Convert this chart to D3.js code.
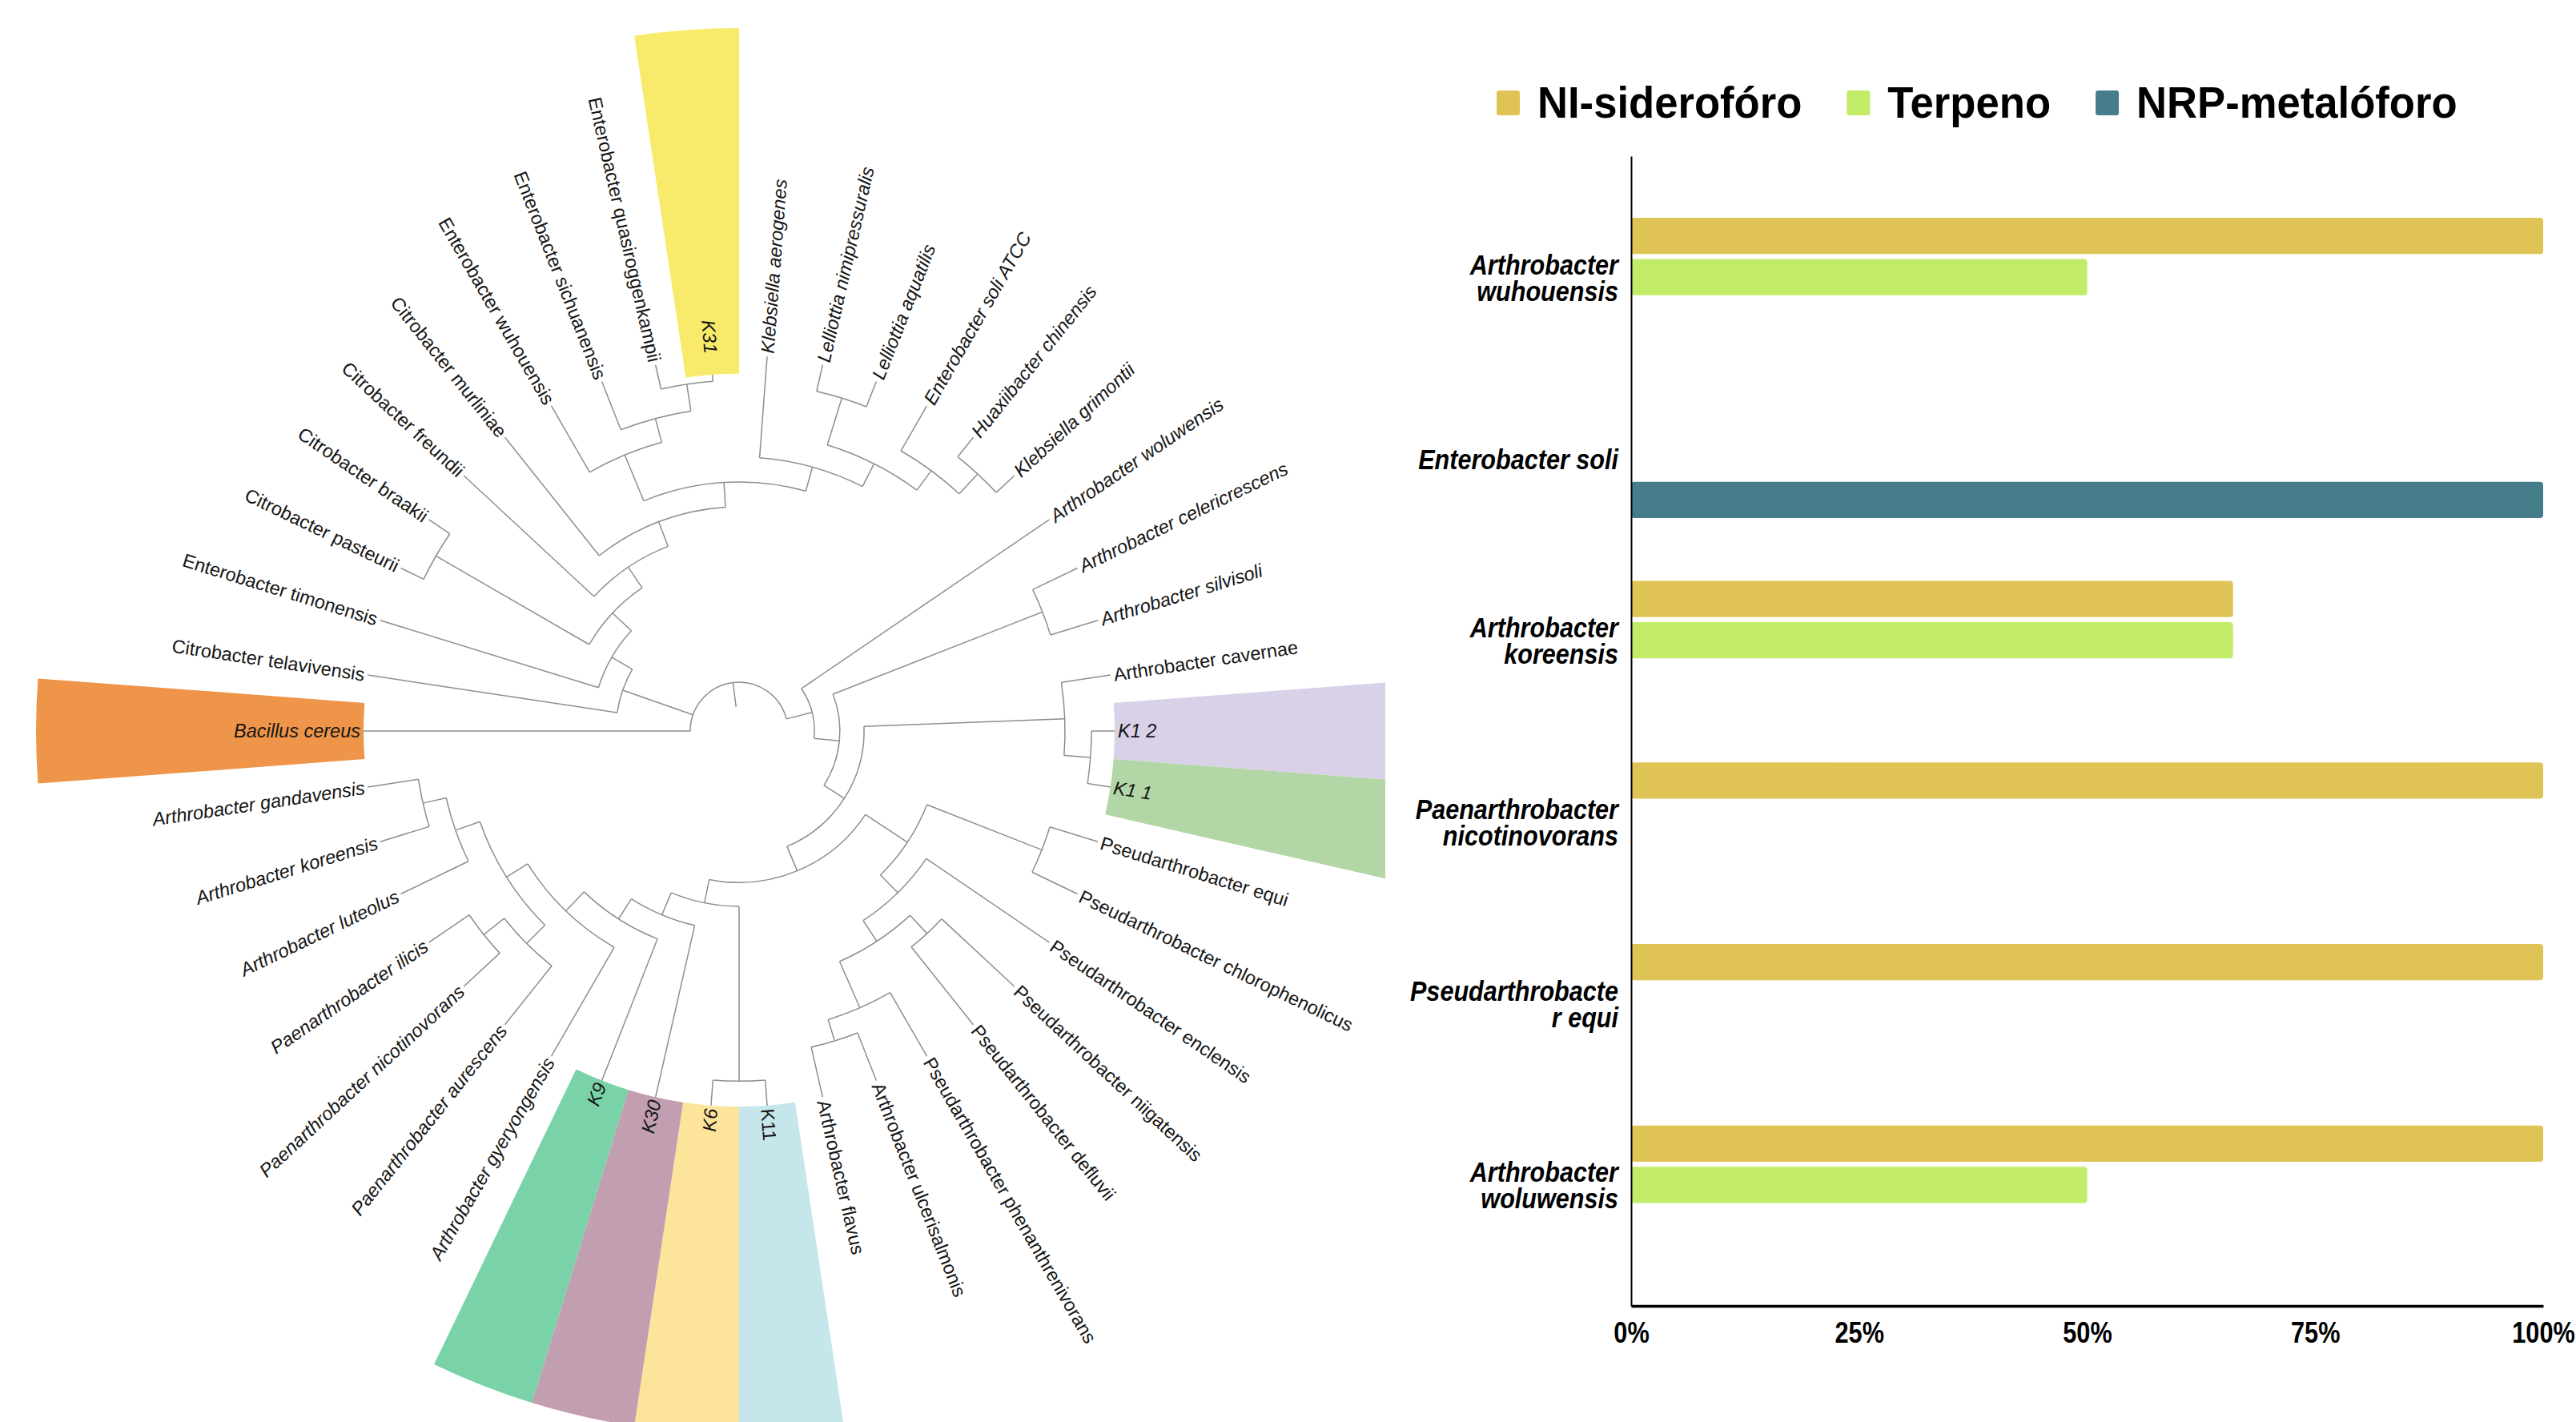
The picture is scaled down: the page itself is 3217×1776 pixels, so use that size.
<!DOCTYPE html>
<html>
<head>
<meta charset="utf-8">
<script src="https://cdn.jsdelivr.net/npm/d3@7"></script>
<style>
  html, body { margin: 0; padding: 0; background: #ffffff; }
  svg { display: block; }
</style>
</head>
<body>
<svg id="chart" width="3217" height="1776"></svg>
<script>
// ---------------- Phylogeny ----------------
// Newick topology; branch lengths are normalised so tips sit at depth ~1.0.
const treeNewick =
  "('Bacillus cereus':1," +
  "('Citrobacter telavivensis':0.772,('Enterobacter timonensis':0.699,(('Citrobacter pasteurii':0.078,'Citrobacter braakii':0.078):0.542," +
  "('Citrobacter freundii':0.544,('Citrobacter murliniae':0.463," +
  "(('Enterobacter wuhouensis':0.235,('Enterobacter sichuanensis':0.159,('Enterobacter quasiroggenkampii':0.076,'K31':0.02):0.083):0.076):0.152," +
  "('Klebsiella aerogenes':0.311,(('Lelliottia nimipressuralis':0.083,'Lelliottia aquatilis':0.083):0.150," +
  "('Enterobacter soli ATCC':0.159,('Huaxiibacter chinensis':0.076,'Klebsiella grimontii':0.076):0.083):0.074):0.078):0.076" +
  "):0.076):0.081):0.076):0.079):0.073):0.228," +
  "('Arthrobacter woluwensis':0.919,(('Arthrobacter celericrescens':0.152,'Arthrobacter silvisoli':0.152):0.689," +
  "(('Arthrobacter cavernae':0.152,('K1 2':0.071,'K1 1':0.071):0.081):0.615," +
  "((('Pseudarthrobacter equi':0.154,'Pseudarthrobacter chlorophenolicus':0.154):0.378," +
  "('Pseudarthrobacter enclensis':0.456,(('Pseudarthrobacter niigatensis':0.304,'Pseudarthrobacter defluvii':0.304):0.076," +
  "('Pseudarthrobacter phenanthrenivorans':0.225,('Arthrobacter ulcerisalmonis':0.157,'Arthrobacter flavus':0.157):0.068):0.155):0.076):0.076):0.154," +
  "(('K11':0.078,'K6':0.078):0.535,('K30':0.539,('K9':0.466,('Arthrobacter gyeryongensis':0.385," +
  "(('Paenarthrobacter aurescens':0.230,('Paenarthrobacter nicotinovorans':0.150,'Paenarthrobacter ilicis':0.150):0.080):0.079," +
  "('Arthrobacter luteolus':0.230,('Arthrobacter koreensis':0.157,'Arthrobacter gandavensis':0.157):0.073):0.079" +
  "):0.076):0.081):0.073):0.074):0.073):0.081):0.074):0.078):0.081);";

// Tip names written in italics
const italicTips = [
  "K31", "Klebsiella aerogenes", "Lelliottia nimipressuralis", "Lelliottia aquatilis",
  "Enterobacter soli ATCC", "Huaxiibacter chinensis", "Klebsiella grimontii",
  "Arthrobacter woluwensis", "Arthrobacter celericrescens", "Arthrobacter silvisoli",
  "K1 2", "K1 1", "K6", "K30", "K9", "Arthrobacter gyeryongensis",
  "Paenarthrobacter aurescens", "Paenarthrobacter nicotinovorans", "Paenarthrobacter ilicis",
  "Arthrobacter luteolus", "Arthrobacter koreensis", "Arthrobacter gandavensis", "Bacillus cereus"
];

// Highlighted tips and their colour strips
const highlightTips   = ["Bacillus cereus", "K31", "K1 2", "K1 1", "K11", "K6", "K30", "K9"];
const highlightColors = ["#ee9549", "#f8ea6b", "#d8d1e8", "#b3d6a7", "#c5e6ea", "#fde49b", "#c19fb0", "#79d2a8"];

// ---------------- Bar chart ----------------
const categories = [
  "Arthrobacter wuhouensis", "Enterobacter soli", "Arthrobacter koreensis",
  "Paenarthrobacter nicotinovorans", "Pseudarthrobacter equi", "Arthrobacter woluwensis"
];
const categoryLines = [
  ["Arthrobacter", "wuhouensis"], ["Enterobacter soli"], ["Arthrobacter", "koreensis"],
  ["Paenarthrobacter", "nicotinovorans"], ["Pseudarthrobacte", "r equi"], ["Arthrobacter", "woluwensis"]
];
const seriesNames  = ["NI-siderofóro", "Terpeno", "NRP-metalóforo"];
const seriesColors = ["#dfc455", "#c2eb67", "#457e8a"];
const niSideroforo  = [1, 0, 0.66, 1, 1, 1];
const terpeno       = [0.5, 0, 0.66, 0, 0, 0.5];
const nrpMetaloforo = [0, 1, 0, 0, 0, 0];
const xTicks = [0, 0.25, 0.5, 0.75, 1];

// ---------------- Newick parser ----------------
function parseNewick(s) {
  let i = 0;
  const ws = () => { while (i < s.length && /\s/.test(s[i])) i++; };
  function node() {
    ws();
    const n = {};
    if (s[i] === "(") {
      i++;
      n.children = [];
      for (;;) {
        n.children.push(node());
        ws();
        if (s[i] === ",") { i++; continue; }
        break;
      }
      i++; // ')'
    }
    ws();
    if (s[i] === "'") {
      const j = s.indexOf("'", i + 1);
      n.name = s.slice(i + 1, j);
      i = j + 1;
    } else {
      const m = /^[^:,();]*/.exec(s.slice(i));
      n.name = m[0].trim();
      i += m[0].length;
    }
    ws();
    n.length = 0;
    if (s[i] === ":") {
      i++;
      const m = /^[0-9.eE+-]+/.exec(s.slice(i));
      n.length = +m[0];
      i += m[0].length;
    }
    return n;
  }
  return node();
}

const svg = d3.select("#chart");
const TAU = Math.PI / 180;

// ---------------- Circular tree ----------------
const cx = 923, cy = 913;
const root = d3.hierarchy(parseNewick(treeNewick));
root.eachBefore(d => { d.dist = d.parent ? d.parent.dist + d.data.length : 0; });
const tips = root.leaves();
const stepDeg = 360 / tips.length;
const angle = d3.scaleLinear().domain([0, tips.length]).range([180, 540]);
tips.forEach((d, i) => { d.angle = angle(i); });
root.eachAfter(d => {
  if (d.children) d.angle = (d.children[0].angle + d.children[d.children.length - 1].angle) / 2;
});
const radius = d3.scaleLinear().domain([0, 1]).range([61, 469]);
const outerStrip = 878;
const pt = (r, a) => [cx + r * Math.cos(a * TAU), cy + r * Math.sin(a * TAU)];

svg.append("defs").append("clipPath").attr("id", "treeClip")
  .append("rect").attr("x", 0).attr("y", 0).attr("width", 1730).attr("height", 1776);

const tree = svg.append("g").attr("clip-path", "url(#treeClip)");

// colour strips behind highlighted tips, starting where each tip ends
const stripArc = d3.arc();
const stripData = tips.filter(d => highlightTips.includes(d.data.name));
tree.append("g").selectAll("path").data(stripData).join("path")
  .attr("transform", `translate(${cx},${cy})`)
  .attr("fill", d => highlightColors[highlightTips.indexOf(d.data.name)])
  .attr("d", d => stripArc({
    innerRadius: radius(d.dist),
    outerRadius: outerStrip,
    startAngle: (d.angle - stepDeg / 2 + 90) * TAU,
    endAngle: (d.angle + stepDeg / 2 + 90) * TAU
  }));

const branches = tree.append("g")
  .attr("fill", "none").attr("stroke", "#8e8e8e").attr("stroke-width", 1.5);

// radial segments
branches.selectAll("path.radial").data(root.descendants().filter(d => d.parent)).join("path")
  .attr("class", "radial")
  .attr("d", d => {
    const a = pt(radius(d.parent.dist), d.angle), b = pt(radius(d.dist), d.angle);
    return `M${a[0]},${a[1]}L${b[0]},${b[1]}`;
  });

// arcs joining the children of each internal node
branches.selectAll("path.join").data(root.descendants().filter(d => d.children)).join("path")
  .attr("class", "join")
  .attr("d", d => {
    const p = d3.path();
    const a0 = d.children[0].angle, a1 = d.children[d.children.length - 1].angle;
    p.arc(cx, cy, radius(d.dist), a0 * TAU, a1 * TAU, false);
    return p.toString();
  });

// root stub
{
  const a = pt(radius(-0.075), root.angle), b = pt(radius(0), root.angle);
  branches.append("path").attr("d", `M${a[0]},${a[1]}L${b[0]},${b[1]}`);
}

// tip labels (aligned on one circle)
tree.append("g").selectAll("text").data(tips).join("text")
  .attr("transform", d => {
    const a = ((d.angle % 360) + 360) % 360;
    const flip = a > 90 && a < 270;
    return `translate(${cx},${cy}) rotate(${d.angle}) translate(${radius(1) + 4},0)` + (flip ? " rotate(180)" : "");
  })
  .attr("text-anchor", d => {
    const a = ((d.angle % 360) + 360) % 360;
    return (a > 90 && a < 270) ? "end" : "start";
  })
  .attr("dy", "0.35em")
  .style("font-family", "'Liberation Sans', Arial, sans-serif")
  .style("font-size", "23.5px")
  .style("font-style", d => italicTips.includes(d.data.name) ? "italic" : "normal")
  .attr("fill", "#151515")
  .text(d => d.data.name);

// ---------------- Horizontal grouped bars ----------------
const sans = "'Liberation Sans', Arial, sans-serif";
const x = d3.scaleLinear().domain([0, 1]).range([2037, 3176]);
const y = d3.scaleBand().domain(categories).range([195, 1631]).paddingInner(0.347).paddingOuter(0.34);
const ySeries = d3.scaleBand().domain(seriesNames).range([0, y.bandwidth()]).paddingInner(0.12);
const seriesValues = [niSideroforo, terpeno, nrpMetaloforo];
const color = d3.scaleOrdinal().domain(seriesNames).range(seriesColors);

const barRows = [];
categories.forEach((c, i) => {
  seriesNames.forEach((s, k) => {
    if (seriesValues[k][i] > 0) barRows.push({ category: c, series: s, value: seriesValues[k][i] });
  });
});

svg.append("g").selectAll("rect").data(barRows).join("rect")
  .attr("x", x(0))
  .attr("y", d => y(d.category) + ySeries(d.series))
  .attr("width", d => x(d.value) - x(0))
  .attr("height", ySeries.bandwidth())
  .attr("rx", 4)
  .attr("fill", d => color(d.series));

// y axis with wrapped, condensed category names
const yPad = 16;
const yAxis = svg.append("g").attr("transform", `translate(${x(0)},0)`)
  .call(d3.axisLeft(y).tickSize(0).tickSizeOuter(0).tickPadding(yPad));
yAxis.select(".domain").attr("stroke", "#000").attr("stroke-width", 2);
yAxis.selectAll(".tick text").each(function (d) {
  const lines = categoryLines[categories.indexOf(d)];
  const t = d3.select(this).text(null).attr("dy", null)
    .attr("transform", `translate(${-yPad},0) scale(0.85,1) translate(${yPad},0)`)
    .style("font-family", sans).style("font-size", "36px")
    .style("font-weight", "bold").style("font-style", "italic").attr("fill", "#000");
  lines.forEach((ln, k) => {
    t.append("tspan").attr("x", -yPad)
      .attr("y", (k - (lines.length - 1) / 2) * 33)
      .attr("dy", "0.36em").text(ln);
  });
});

// x axis
const xAxis = svg.append("g").attr("transform", `translate(0,${y.range()[1]})`)
  .call(d3.axisBottom(x).tickValues(xTicks).tickFormat(d3.format(".0%")).tickSize(0).tickSizeOuter(0).tickPadding(20));
xAxis.select(".domain").attr("stroke", "#000").attr("stroke-width", 3.5);
xAxis.selectAll(".tick text")
  .attr("transform", "scale(0.83,1)")
  .style("font-family", sans).style("font-size", "37px").style("font-weight", "bold").attr("fill", "#000");

// legend
const legend = svg.append("g").attr("transform", "translate(1869,0)");
let lx = 0;
seriesNames.forEach((s, k) => {
  legend.append("rect").attr("x", lx).attr("y", 113).attr("width", 29).attr("height", 31)
    .attr("rx", 3).attr("fill", color(s));
  const tx = lx + 51;
  const t = legend.append("text").attr("x", tx).attr("y", 147)
    .attr("transform", `translate(${tx},0) scale(0.94,1) translate(${-tx},0)`)
    .style("font-family", sans).style("font-size", "56px").style("font-weight", "bold")
    .attr("fill", "#000").text(s);
  lx = tx + t.node().getComputedTextLength() * 0.94 + 56;
});
</script>
</body>
</html>
